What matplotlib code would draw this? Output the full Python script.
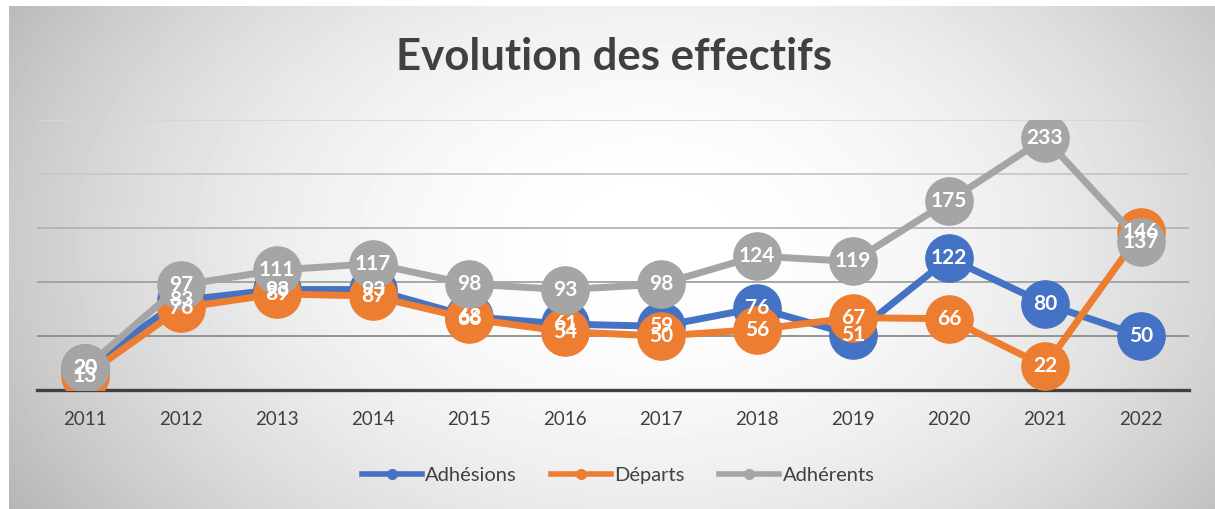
import numpy as np
import matplotlib
matplotlib.use("Agg")
import matplotlib.pyplot as plt

# data
years = ["2011", "2012", "2013", "2014", "2015", "2016",
         "2017", "2018", "2019", "2020", "2021", "2022"]
adhesions = [20, 83, 93, 93, 68, 61, 59, 76, 51, 122, 80, 50]
departs = [13, 76, 89, 87, 66, 54, 50, 56, 67, 66, 22, 146]
adherents = [20, 97, 111, 117, 98, 93, 98, 124, 119, 175, 233, 137]

series = [("Adhésions", adhesions, "#4472C4"),
          ("Départs", departs, "#ED7D31"),
          ("Adhérents", adherents, "#A5A5A5")]

plt.rcParams["font.family"] = ["Lato", "DejaVu Sans"]

W, H = 1215, 509
fig = plt.figure(figsize=(W / 100, H / 100), dpi=100, facecolor="white")

# radial grey gradient behind the chart
bg = fig.add_axes([9 / W, 0, 1 - 9 / W, (H - 6) / H])
yy, xx = np.mgrid[6:H, 9:W]
r = np.sqrt(((xx - 650) / 620.0) ** 2 + ((yy - 240) / 420.0) ** 2)
shade = 1 - (50 / 255.0) * np.minimum(r, 1.25) ** 2
bg.imshow(shade, cmap="gray", vmin=0, vmax=1, aspect="auto",
          interpolation="bilinear")
bg.axis("off")

ax = fig.add_axes([37 / W, 119 / H, (1189 - 37) / W, (390 - 120) / H])
ax.set_facecolor("none")
x = np.arange(len(years))

grid_cols = ["#8c8c8c", "#a0a0a0", "#b4b4b4", "#c8c8c8", "#d6d6d6"]
for val, col in zip([50, 100, 150, 200, 250], grid_cols):
    ax.axhline(val, color=col, lw=1.3, zorder=0)

for i, (name, vals, col) in enumerate(series):
    ax.plot(x, vals, color=col, lw=5, marker="o", ms=34,
            solid_capstyle="round", zorder=2 + i, label=name)

for name, vals, col in series:
    for xi, v in zip(x, vals):
        ax.text(xi, v, str(v), ha="center", va="center", color="white",
                fontsize=15, fontweight="bold", zorder=10)

ax.set_xlim(-0.5, len(years) - 0.5)
ax.set_ylim(0, 250)
ax.set_xticks(x)
ax.set_xticklabels(years, fontsize=13.5, color="#404040")
ax.set_yticks([])
ax.tick_params(axis="x", length=0, pad=15)
for s in ["top", "left", "right"]:
    ax.spines[s].set_visible(False)
ax.spines["bottom"].set_color("#404040")
ax.spines["bottom"].set_linewidth(2.4)
ax.spines["bottom"].set_zorder(1)

fig.text(614 / W, 1 - 57 / H, "Evolution des effectifs", ha="center",
         va="center", fontsize=31.5, fontweight="bold", color="#404040")

handles = [plt.Line2D([], [], color=c, lw=4, marker="o", ms=7)
           for _, _, c in series]
fig.legend(handles, [n for n, _, _ in series], loc="center",
           bbox_to_anchor=(618 / W, 1 - 475 / H), ncol=3, frameon=False,
           fontsize=14.5, handlelength=3, handletextpad=0.15,
           columnspacing=1.7, labelcolor="#404040")

fig.savefig("out.png", dpi=100, facecolor="white")
